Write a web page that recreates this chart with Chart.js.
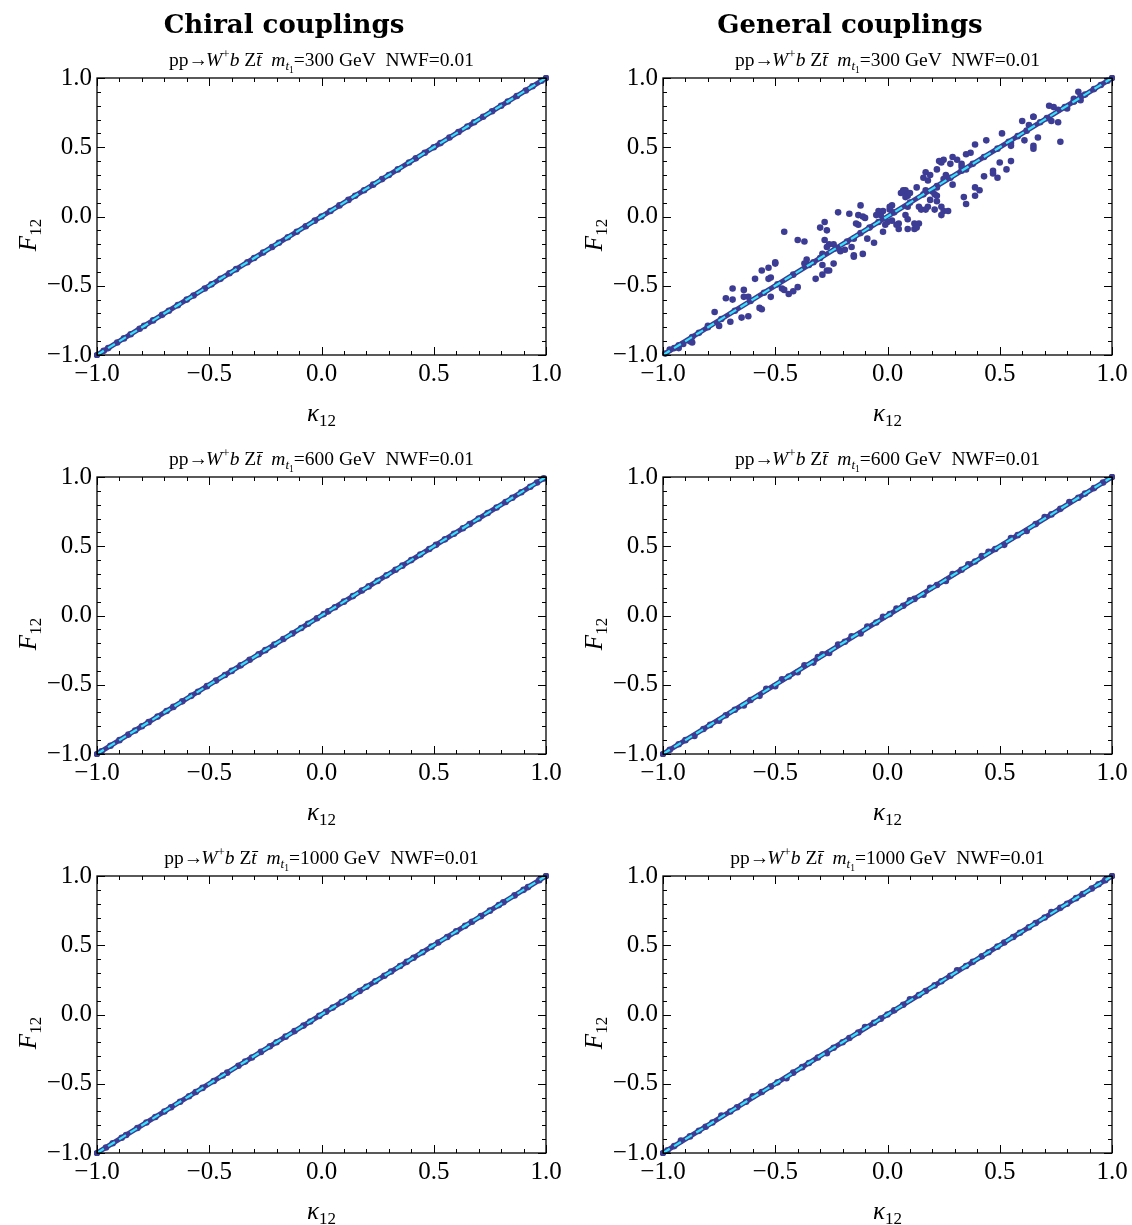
<!DOCTYPE html>
<html><head><meta charset="utf-8">
<script src="https://cdn.jsdelivr.net/npm/chart.js@4.4.1/dist/chart.umd.min.js"></script>
<style>
html,body{margin:0;padding:0;background:#fff;overflow:hidden;}
#wrap{position:relative;width:1132px;height:1225px;}
canvas{position:absolute;}
</style></head><body><div id="wrap"></div>
<script>
// ---------- tick labels / texts ----------
const tickValues = [-1.0, -0.5, 0.0, 0.5, 1.0];
const columnTitles = ['Chiral couplings', 'General couplings'];
const masses = ['300', '600', '1000'];
const nwf = '0.01';
// reference line F = kappa
const refLineK = [-1, 1];
const refLineF = [-1, 1];

// ---------- chiral couplings ----------
const chiral300K = [-1.00,-0.97,-0.95,-0.91,-0.88,-0.85,-0.81,-0.79,-0.75,-0.71,-0.68,-0.64,-0.60,-0.57,-0.52,-0.49,-0.45,-0.41,-0.38,-0.33,-0.30,-0.26,-0.22,-0.19,-0.15,-0.11,-0.07,-0.03,0.00,0.04,0.08,0.12,0.15,0.19,0.23,0.27,0.30,0.34,0.39,0.42,0.46,0.50,0.53,0.57,0.61,0.65,0.68,0.72,0.76,0.80,0.83,0.87,0.91,0.94,0.98,1.00];
const chiral300F = [-1.00,-0.97,-0.95,-0.91,-0.88,-0.85,-0.81,-0.79,-0.75,-0.71,-0.68,-0.64,-0.60,-0.57,-0.52,-0.49,-0.45,-0.41,-0.38,-0.33,-0.30,-0.26,-0.22,-0.19,-0.15,-0.11,-0.07,-0.03,0.00,0.04,0.08,0.12,0.15,0.19,0.23,0.27,0.30,0.34,0.39,0.42,0.46,0.50,0.53,0.57,0.61,0.65,0.68,0.72,0.76,0.80,0.83,0.87,0.91,0.94,0.98,1.00];
const chiral600K = [-1.00,-0.98,-0.94,-0.90,-0.86,-0.83,-0.80,-0.77,-0.73,-0.69,-0.66,-0.62,-0.58,-0.55,-0.51,-0.47,-0.43,-0.40,-0.36,-0.32,-0.28,-0.25,-0.21,-0.17,-0.13,-0.09,-0.06,-0.02,0.01,0.03,0.06,0.10,0.14,0.18,0.21,0.25,0.29,0.33,0.36,0.40,0.44,0.48,0.51,0.55,0.59,0.63,0.66,0.70,0.74,0.78,0.82,0.85,0.89,0.93,0.96,0.99];
const chiral600F = [-1.00,-0.98,-0.94,-0.90,-0.86,-0.83,-0.80,-0.77,-0.73,-0.69,-0.66,-0.62,-0.58,-0.55,-0.51,-0.47,-0.43,-0.40,-0.36,-0.32,-0.28,-0.25,-0.21,-0.17,-0.13,-0.09,-0.06,-0.02,0.01,0.03,0.06,0.10,0.14,0.18,0.21,0.25,0.29,0.33,0.36,0.40,0.44,0.48,0.51,0.55,0.59,0.63,0.66,0.70,0.74,0.78,0.82,0.85,0.89,0.93,0.96,0.99];
const chiral1000K = [-1.00,-0.96,-0.93,-0.89,-0.87,-0.82,-0.78,-0.74,-0.70,-0.67,-0.63,-0.59,-0.56,-0.53,-0.48,-0.44,-0.42,-0.37,-0.34,-0.31,-0.27,-0.23,-0.20,-0.16,-0.12,-0.08,-0.05,-0.01,0.02,0.05,0.09,0.13,0.17,0.20,0.24,0.28,0.31,0.35,0.38,0.41,0.45,0.49,0.52,0.56,0.60,0.64,0.67,0.71,0.75,0.79,0.81,0.86,0.90,0.92,0.97,1.00];
const chiral1000F = [-1.00,-0.96,-0.93,-0.89,-0.87,-0.82,-0.78,-0.74,-0.70,-0.67,-0.63,-0.59,-0.56,-0.53,-0.48,-0.44,-0.42,-0.37,-0.34,-0.31,-0.27,-0.23,-0.20,-0.16,-0.12,-0.08,-0.05,-0.01,0.02,0.05,0.09,0.13,0.17,0.20,0.24,0.28,0.31,0.35,0.38,0.41,0.45,0.49,0.52,0.56,0.60,0.64,0.67,0.71,0.75,0.79,0.81,0.86,0.90,0.92,0.97,1.00];

// ---------- general couplings ----------
const general300K = [0.85,0.83,0.86,0.83,0.86,0.72,0.74,0.80,0.76,0.65,
0.65,0.60,0.63,0.73,0.76,0.51,0.67,0.77,0.61,0.55,
0.65,0.65,0.44,0.39,0.55,0.37,0.35,0.29,0.31,0.50,
0.55,0.25,0.23,0.24,0.22,0.28,0.33,0.33,0.35,0.47,
0.53,0.47,0.43,0.49,0.17,0.19,0.16,0.18,0.26,0.25,
0.29,0.13,0.17,0.22,0.39,0.41,0.07,0.08,0.08,0.06,
0.09,0.08,0.10,0.20,0.21,0.22,0.19,0.22,0.34,0.39,
0.35,-0.12,0.02,0.01,0.01,-0.02,-0.03,-0.04,-0.05,-0.13,
-0.11,-0.17,-0.22,-0.10,0.09,0.14,0.15,0.18,0.17,0.24,
0.25,0.27,0.24,0.21,0.08,0.09,0.12,0.14,0.05,0.05,
0.09,0.12,0.13,0.04,0.02,0.00,-0.01,-0.02,-0.14,-0.13,
-0.28,-0.30,-0.27,-0.09,-0.06,-0.12,-0.15,-0.46,-0.40,-0.37,
-0.28,-0.26,-0.24,-0.27,-0.29,-0.21,-0.19,-0.16,-0.15,-0.15,
-0.11,-0.36,-0.37,-0.33,-0.29,-0.24,-0.27,-0.26,-0.29,-0.32,
-0.50,-0.50,-0.53,-0.56,-0.52,-0.53,-0.59,-0.40,-0.47,-0.46,
-0.44,-0.42,-0.52,-0.62,-0.64,-0.64,-0.69,-0.72,-0.69,-0.57,
-0.56,-0.65,-0.62,-0.70,-0.77,-0.75,-0.80,-0.84,-0.87,-0.88,
-0.91,-0.93,-0.95,-0.93,-0.87,-0.97,-0.99,
-0.80,-0.74,-0.68,-0.61,-0.55,-0.49,-0.42,-0.35,-0.30,-0.23,
-0.18,-0.08,-0.04,0.03,0.10,0.16,0.22,0.28,0.33,0.38,
0.43,0.49,0.54,0.58,0.62,0.68,0.71,0.79,0.83,0.88,
0.92,0.95,0.98,1.00];
const general300F = [0.90,0.85,0.84,0.83,0.87,0.80,0.79,0.78,0.77,0.72,
0.72,0.69,0.66,0.69,0.68,0.60,0.57,0.54,0.55,0.53,
0.51,0.49,0.55,0.52,0.51,0.46,0.45,0.43,0.41,0.39,
0.40,0.41,0.40,0.39,0.34,0.38,0.38,0.36,0.34,0.33,
0.34,0.31,0.29,0.28,0.32,0.30,0.28,0.26,0.30,0.27,
0.23,0.21,0.19,0.21,0.21,0.19,0.19,0.18,0.19,0.17,
0.15,0.14,0.17,0.18,0.16,0.15,0.12,0.11,0.14,0.15,
0.09,0.08,0.08,0.07,0.05,0.04,0.01,0.04,0.01,0.01,
0.00,0.02,0.03,-0.01,0.07,0.07,0.05,0.07,0.05,0.07,
0.04,0.04,0.01,0.05,0.01,-0.02,-0.05,-0.05,-0.05,-0.09,
-0.09,-0.09,-0.08,-0.06,-0.03,-0.04,-0.06,-0.11,-0.05,-0.06,
-0.04,-0.08,-0.10,-0.16,-0.19,-0.12,-0.16,-0.11,-0.17,-0.18,
-0.17,-0.20,-0.20,-0.22,-0.27,-0.25,-0.24,-0.22,-0.28,-0.29,
-0.27,-0.31,-0.34,-0.33,-0.35,-0.34,-0.39,-0.39,-0.42,-0.45,
-0.33,-0.34,-0.37,-0.39,-0.44,-0.45,-0.45,-0.51,-0.52,-0.53,
-0.56,-0.54,-0.58,-0.58,-0.58,-0.53,-0.52,-0.59,-0.60,-0.66,
-0.67,-0.73,-0.72,-0.76,-0.69,-0.79,-0.79,-0.84,-0.87,-0.90,
-0.92,-0.93,-0.95,-0.95,-0.91,-0.96,-0.99,
-0.80,-0.74,-0.68,-0.61,-0.55,-0.49,-0.42,-0.35,-0.30,-0.23,
-0.18,-0.08,-0.04,0.03,0.10,0.16,0.22,0.28,0.33,0.38,
0.43,0.49,0.54,0.58,0.62,0.68,0.71,0.79,0.83,0.88,
0.92,0.95,0.98,1.00];
const general600K = [-1.00,-0.97,-0.93,-0.90,-0.86,-0.82,-0.79,-0.75,-0.72,-0.68,-0.64,-0.61,-0.57,-0.54,-0.50,-0.47,-0.44,-0.40,-0.37,-0.33,-0.31,-0.29,-0.26,-0.22,-0.19,-0.16,-0.12,-0.09,-0.05,-0.02,0.01,0.04,0.07,0.10,0.12,0.16,0.19,0.22,0.26,0.29,0.33,0.36,0.39,0.42,0.45,0.48,0.52,0.55,0.58,0.62,0.66,0.70,0.73,0.77,0.81,0.85,0.88,0.92,0.96,1.00];
const general600F = [-1.00,-0.97,-0.93,-0.90,-0.87,-0.82,-0.79,-0.76,-0.72,-0.68,-0.65,-0.61,-0.58,-0.53,-0.51,-0.46,-0.44,-0.41,-0.36,-0.34,-0.30,-0.28,-0.27,-0.21,-0.19,-0.15,-0.13,-0.08,-0.05,-0.01,0.01,0.05,0.07,0.11,0.12,0.15,0.20,0.22,0.25,0.30,0.33,0.37,0.39,0.43,0.46,0.48,0.51,0.56,0.58,0.61,0.66,0.71,0.73,0.77,0.82,0.85,0.88,0.92,0.96,1.00];
const general1000K = [-1.00,-0.98,-0.95,-0.92,-0.88,-0.84,-0.81,-0.78,-0.74,-0.70,-0.67,-0.63,-0.60,-0.56,-0.52,-0.49,-0.45,-0.42,-0.38,-0.35,-0.31,-0.27,-0.24,-0.20,-0.17,-0.13,-0.10,-0.06,-0.03,0.00,0.03,0.07,0.10,0.14,0.17,0.21,0.24,0.28,0.31,0.35,0.38,0.42,0.45,0.49,0.52,0.56,0.59,0.63,0.66,0.70,0.73,0.77,0.80,0.84,0.87,0.91,0.94,0.97,1.00];
const general1000F = [-1.00,-0.98,-0.95,-0.91,-0.88,-0.84,-0.81,-0.78,-0.73,-0.70,-0.67,-0.63,-0.59,-0.56,-0.52,-0.49,-0.46,-0.42,-0.38,-0.35,-0.31,-0.28,-0.24,-0.20,-0.17,-0.13,-0.09,-0.06,-0.03,0.00,0.03,0.07,0.11,0.14,0.17,0.21,0.24,0.28,0.32,0.35,0.38,0.42,0.45,0.49,0.52,0.56,0.59,0.63,0.66,0.70,0.74,0.77,0.80,0.84,0.87,0.91,0.94,0.97,1.00];

// ---------- styling ----------
const BLUE = '#3c3c95';
const CYAN = '#36e2f6';
const SERIF = '"Liberation Serif", "Times New Roman", serif';

const panels = [
  {col:0,row:0,k:chiral300K,f:chiral300F,mass:masses[0]},
  {col:1,row:0,k:general300K,f:general300F,mass:masses[0]},
  {col:0,row:1,k:chiral600K,f:chiral600F,mass:masses[1]},
  {col:1,row:1,k:general600K,f:general600F,mass:masses[1]},
  {col:0,row:2,k:chiral1000K,f:chiral1000F,mass:masses[2]},
  {col:1,row:2,k:general1000K,f:general1000F,mass:masses[2]},
];

function fmt(v){ return (v < 0 ? '\u2212' : '') + Math.abs(v).toFixed(1); }

const framePlugin = {
  id: 'frame',
  afterDatasetsDraw(chart){
    const {ctx, chartArea:a, scales:{x, y}} = chart;
    ctx.save();
    ctx.strokeStyle = '#000';
    ctx.lineWidth = 1;
    ctx.beginPath();
    for (let i = -10; i <= 10; i++){
      const v = i/10, L = (i % 5 === 0) ? 8 : 4;
      const px = Math.round(x.getPixelForValue(v)) + 0.5;
      const py = Math.round(y.getPixelForValue(v)) + 0.5;
      ctx.moveTo(px, a.bottom); ctx.lineTo(px, a.bottom - L);
      ctx.moveTo(px, a.top); ctx.lineTo(px, a.top + L);
      ctx.moveTo(a.left, py); ctx.lineTo(a.left + L, py);
      ctx.moveTo(a.right, py); ctx.lineTo(a.right - L, py);
    }
    ctx.stroke();
    ctx.lineWidth = 1.3;
    ctx.strokeRect(a.left, a.top, a.right - a.left, a.bottom - a.top);
    ctx.restore();
  }
};

function drawSegs(ctx, segs, cx, cy){
  let total = 0;
  segs.forEach(s => { ctx.font = s.f; s.w = ctx.measureText(s.t).width + (s.kern || 0); total += s.w; });
  let x = cx - total/2;
  segs.forEach(s => {
    ctx.font = s.f;
    ctx.fillText(s.t, x, cy + (s.dy || 0));
    x += s.w;
  });
}

const richPlugin = {
  id: 'rich',
  afterDraw(chart, args, opts){
    const ctx = chart.ctx, a = chart.chartArea;
    (opts.items || []).forEach(it => {
      ctx.save();
      ctx.fillStyle = '#000';
      ctx.textBaseline = 'alphabetic';
      ctx.textAlign = 'left';
      const px = a.left + it.x, py = a.top + it.y;
      if (it.rot){
        ctx.translate(px, py);
        ctx.rotate(-Math.PI/2);
        drawSegs(ctx, it.segs, 0, 0);
      } else {
        drawSegs(ctx, it.segs, px, py);
      }
      ctx.restore();
    });
  }
};

const wrap = document.getElementById('wrap');
panels.forEach(p => {
  const c = document.createElement('canvas');
  c.width = 566; c.height = 427;
  c.style.left = (p.col*566) + 'px';
  c.style.top = (p.row*399) + 'px';
  c.style.width = '566px'; c.style.height = '427px';
  wrap.appendChild(c);

  const items = [
    {x: 224.5, y: -12, segs: [
      {t:'pp', f:'19.5px '+SERIF},
      {t:'\u2192', f:'19.5px '+SERIF, kern:-2},
      {t:'W', f:'italic 19.5px '+SERIF},
      {t:'+', f:'13px '+SERIF, dy:-8},
      {t:'b', f:'italic 19.5px '+SERIF},
      {t:' Z', f:'19.5px '+SERIF},
      {t:'t\u0304', f:'italic 19.5px '+SERIF},
      {t:'  m', f:'italic 19.5px '+SERIF},
      {t:'t', f:'italic 13px '+SERIF, dy:4},
      {t:'1', f:'9.5px '+SERIF, dy:7},
      {t:'='+p.mass+' GeV  NWF='+nwf, f:'19.5px '+SERIF}
    ]},
    {x: 224.5, y: 343, segs: [
      {t:'\u03BA', f:'italic 25px '+SERIF},
      {t:'12', f:'17px '+SERIF, dy:5}
    ]},
    {x: -61, y: 157, rot: true, segs: [
      {t:'F', f:'italic 25px '+SERIF},
      {t:'12', f:'17px '+SERIF, dy:5}
    ]}
  ];
  if (p.row === 0){
    items.push({x: 187, y: -45, segs: [{t: columnTitles[p.col], f:'bold 26px "DejaVu Serif", serif'}]});
  }

  const pts = p.k.map((k, i) => ({x: k, y: p.f[i]}));
  const ref = refLineK.map((k, i) => ({x: k, y: refLineF[i]}));

  new Chart(c, {
    type: 'scatter',
    data: { datasets: [
      {type:'line', data: ref, borderColor: BLUE, borderWidth: 5, pointRadius: 0, order: 3, clip: 0},
      {data: pts, backgroundColor: BLUE, borderWidth: 0, pointRadius: 3.3, order: 2, clip: 3},
      {type:'line', data: ref, borderColor: CYAN, borderWidth: 2.2, borderDash: [8,5], pointRadius: 0, order: 1, clip: 0}
    ]},
    options: {
      responsive: false, animation: false, devicePixelRatio: 1,
      layout: {padding: {top: 78, right: 20, left: 0, bottom: 0}},
      plugins: {legend: {display: false}, tooltip: {enabled: false}, rich: {items}},
      scales: {
        x: {type:'linear', min:-1, max:1,
            afterFit(s){ s.height = 72; },
            afterBuildTicks(s){ s.ticks = tickValues.map(v => ({value: v})); },
            grid: {display:false, drawTicks:false}, border: {display:false},
            ticks: {padding: 4, color:'#000', font:{family: SERIF, size: 25}, callback: fmt, maxRotation: 0, autoSkip: false}},
        y: {type:'linear', min:-1, max:1,
            afterFit(s){ s.width = 97; },
            afterBuildTicks(s){ s.ticks = tickValues.map(v => ({value: v})); },
            grid: {display:false, drawTicks:false}, border: {display:false},
            ticks: {padding: 5, color:'#000', font:{family: SERIF, size: 25}, callback: fmt, autoSkip: false}}
      }
    },
    plugins: [framePlugin, richPlugin]
  });
});
</script>
</body></html>
